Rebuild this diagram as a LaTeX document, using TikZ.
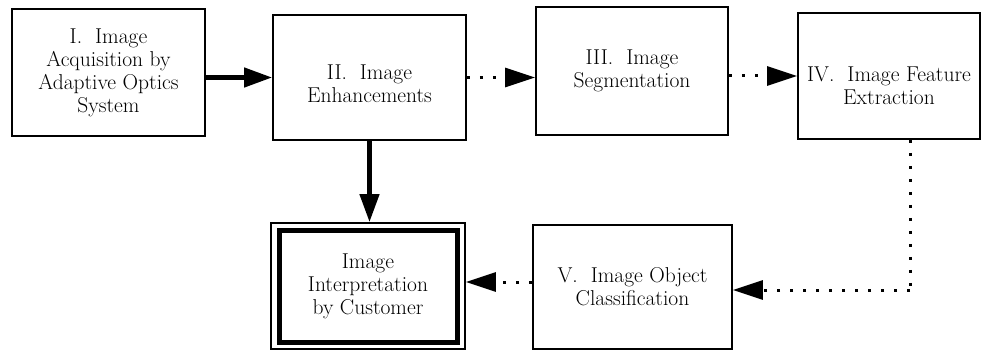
\documentclass[tikz,border=0pt]{standalone}
\usetikzlibrary{arrows.meta}

\begin{document}
\begin{tikzpicture}[x=1pt,y=-1pt,
    stage/.style={draw,line width=1.8pt,align=center,inner sep=0pt,
        font=\fontsize{21.5}{23}\selectfont},
    solidarrow/.style={line width=4.5pt,-{Triangle[length=28pt,width=19pt]}},
    dotarrow/.style={line width=3pt,dash pattern=on 3pt off 10pt,
        -{Triangle[length=30pt,width=19pt]}}]
    \useasboundingbox (0,0) rectangle (985,350);
    % top row
    \node[stage,minimum width=193pt,minimum height=127pt] (acq) at (108.5,72.5)
        {I.~ Image\\Acquisition by\\Adaptive Optics\\System};
    \node[stage,minimum width=193pt,minimum height=125pt] (enh) at (369.5,77.5)
        {\rule{0pt}{28pt}II.~ Image\\Enhancements};
    \node[stage,minimum width=192pt,minimum height=128pt] (seg) at (632,71)
        {III.~ Image\\Segmentation};
    \node[stage,minimum width=182pt,minimum height=126pt] (feat) at (889,76)
        {\rule{0pt}{34pt}IV.~ Image Feature\\Extraction};
    % bottom row
    \node[stage,minimum width=194pt,minimum height=126pt] (interp) at (368,286)
        {Image\\Interpretation\\by Customer};
    \draw[line width=5pt] ([shift={(9,8)}]interp.north west)
        rectangle ([shift={(-8,-7.5)}]interp.south east);
    \node[stage,minimum width=199pt,minimum height=124pt] (cls) at (632.5,287)
        {V.~ Image Object\\Classification};
    \coordinate (bend) at (910,290);
    % connectors
    \draw[solidarrow] (acq.east |- enh.west) -- (enh.west);
    \draw[dotarrow] (enh.east) -- (enh.east -| seg.west);
    \draw[dotarrow] (seg.east |- feat.west) -- (feat.west);
    \draw[solidarrow] (enh.south) -- (enh.south |- interp.north);
    \draw[line width=3pt,dash pattern=on 3pt off 10pt] (feat.south -| bend) -- (bend);
    \draw[dotarrow] (bend) -- (bend -| cls.east);
    \draw[dotarrow] ([yshift=5pt]cls.west) -- ([yshift=5pt]cls.west -| interp.east);
\end{tikzpicture}
\end{document}
